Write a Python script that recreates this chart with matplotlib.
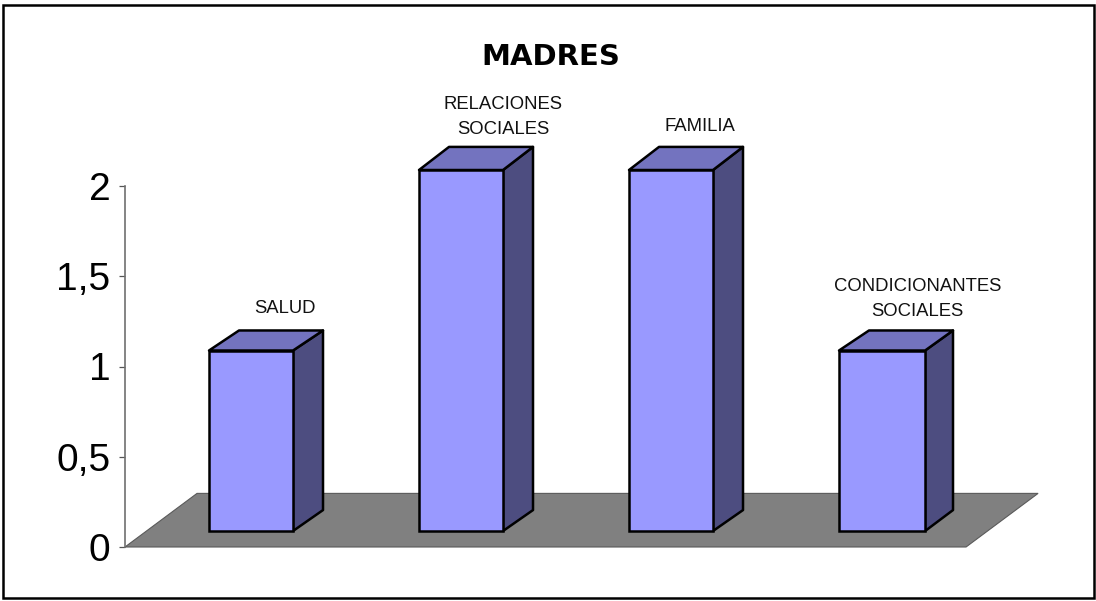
import matplotlib
matplotlib.use("Agg")
import matplotlib.pyplot as plt
from matplotlib.patches import Polygon, Rectangle

title = "MADRES"
categories = ["SALUD", "RELACIONES\nSOCIALES", "FAMILIA", "CONDICIONANTES\nSOCIALES"]
values = [1, 2, 2, 1]
yticks = [0, 0.5, 1, 1.5, 2]
yticklabels = ["0", "0,5", "1", "1,5", "2"]

FRONT = "#9999FF"
TOP = "#7373BF"
SIDE = "#4D4D80"
FLOOR = "#808080"

W, H = 1096, 601
fig = plt.figure(figsize=(W / 100, H / 100), dpi=100, facecolor="white")
ax = fig.add_axes([0, 0, 1, 1])
ax.set_facecolor("none")

# scales: one category = 210 px, one value unit = 180.5 px
ax.set_xlim(-251 / 210, (W - 251) / 210)
ax.set_ylim(-(H - 547) / 180.5, 547 / 180.5)

bar_w = 0.40
lift = 0.0886
dx = 0.1429
floor_dx, floor_dy = 0.343, 0.297
x_left, x_right = -0.60, 3.405

# label placement relative to the bar (category units, value units)
label_dx = [0.162, 0.20, 0.138, 0.175]
label_dy = [0.072, 0.048, 0.068, 0.056]
widths = [bar_w, bar_w, bar_w, bar_w + 0.01]

# floor
ax.add_patch(Polygon([(x_left, 0), (x_left + floor_dx, floor_dy),
                      (x_right + floor_dx, floor_dy), (x_right, 0)],
                     closed=True, fc=FLOOR, ec="#5a5a5a", lw=0.8, zorder=1))

# bars
for i, v in enumerate(values):
    bw = widths[i]
    xl, xr = i - bar_w / 2, i - bar_w / 2 + bw
    top = lift + v
    dy_base = 0.116
    dy_top = 0.094 + 0.017 * v
    back = i + bar_w / 2 + dx
    ax.add_patch(Polygon([(xr, lift), (back, lift + dy_base),
                          (back, top + dy_top), (xr, top)],
                         closed=True, fc=SIDE, ec="black", lw=1.8, joinstyle="round", zorder=2))
    ax.add_patch(Polygon([(xl, top), (xl + dx, top + dy_top),
                          (back, top + dy_top), (xr, top)],
                         closed=True, fc=TOP, ec="black", lw=1.8, joinstyle="round", zorder=2))
    ax.bar(xl, v, width=bw, bottom=lift, align="edge", color=FRONT, edgecolor="black",
           linewidth=1.8, zorder=3)
    ax.text(i + label_dx[i], top + dy_top + label_dy[i], categories[i], ha="center", va="bottom",
            fontsize=13.3, family="Liberation Sans", color="#111111",
            linespacing=1.62, zorder=4)

# axis
ax.spines[["top", "right", "bottom"]].set_visible(False)
ax.spines["left"].set_position(("data", x_left))
ax.spines["left"].set_bounds(0, 2)
ax.spines["left"].set_color("#707070")
ax.spines["left"].set_linewidth(1.2)
ax.set_xticks([])
ax.set_yticks(yticks)
ax.set_yticklabels(yticklabels, family="Liberation Sans", fontsize=28, color="black")
ax.tick_params(axis="y", length=4.5, width=0.9, color="#555555", pad=6)

ax.text(551 / W, 1 - 57 / H, title, transform=fig.transFigure, ha="center", va="center",
        fontsize=21, fontweight="bold", family="DejaVu Sans", color="black")

fig.add_artist(Rectangle((2.5 / W, 1 - 598 / H), 1091 / W, 593 / H, transform=fig.transFigure,
                         fill=False, ec="black", lw=1.8))

fig.savefig("out.png", dpi=100, facecolor="white")
